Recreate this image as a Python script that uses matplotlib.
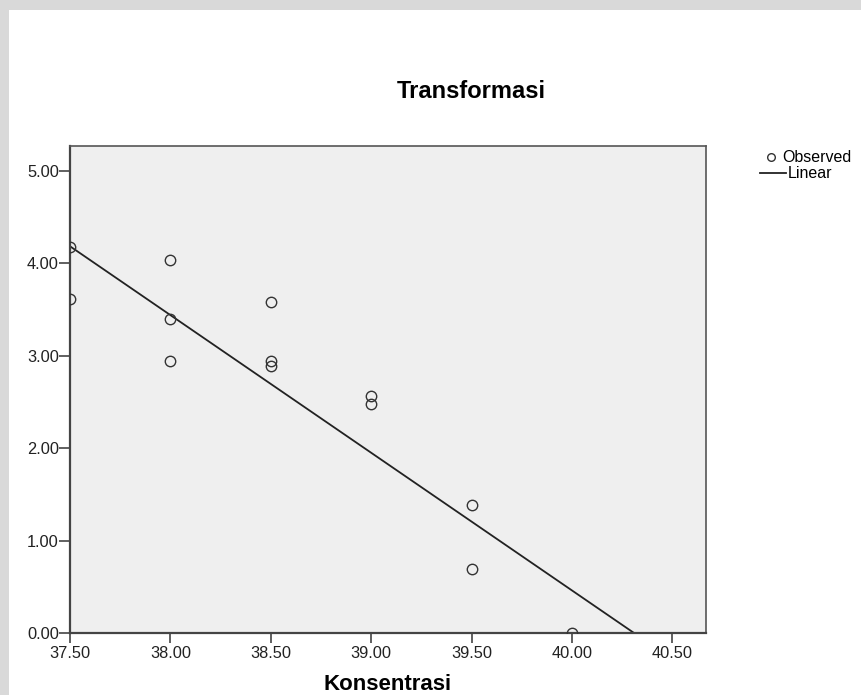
import numpy as np
import matplotlib.pyplot as plt
from matplotlib.lines import Line2D
from matplotlib.patches import Rectangle

# data
konsentrasi = [37.5, 37.5, 38.0, 38.0, 38.0, 38.5, 38.5, 38.5, 39.0, 39.0, 39.5, 39.5, 40.0]
transformasi = [4.18, 3.61, 4.04, 3.40, 2.94, 3.58, 2.94, 2.89, 2.56, 2.48, 1.39, 0.69, 0.00]
# linear fit coefficients (y = a + b*x)
fit_a = 60.06
fit_b = -1.49
x_ticks = [37.5, 38.0, 38.5, 39.0, 39.5, 40.0, 40.5]
y_ticks = [0, 1, 2, 3, 4, 5]

plt.rcParams['font.family'] = ['Liberation Sans', 'DejaVu Sans']

fig = plt.figure(figsize=(8.62, 6.95), dpi=100)
fig.patch.set_facecolor('#d9d9d9')
# white chart panel
fig.add_artist(Rectangle((9/862, 0), 1, 1 - 10/695, transform=fig.transFigure,
                         facecolor='white', edgecolor='none', zorder=0))

ax = fig.add_axes([70/862, 1 - 633/695, 636/862, 487/695])
ax.set_facecolor('#efefef')

ax.plot(konsentrasi, transformasi, 'o', markersize=7.5, markerfacecolor='none',
        markeredgecolor='#333333', markeredgewidth=1.0, zorder=3)

xlim = (37.5, 40.667)
xl = np.array(xlim)
ax.plot(xl, fit_a + fit_b*xl, color='#222222', lw=1.3, zorder=2)

ax.set_xlim(*xlim)
ax.set_ylim(0, 5.27)
ax.set_xticks(x_ticks)
ax.set_xticklabels([f'{v:.2f}' for v in x_ticks])
ax.set_yticks(y_ticks)
ax.set_yticklabels([f'{v:.2f}' for v in y_ticks])

for s in ['left', 'bottom']:
    ax.spines[s].set_color('#444444')
    ax.spines[s].set_linewidth(1.6)
for s in ['top', 'right']:
    ax.spines[s].set_color('#555555')
    ax.spines[s].set_linewidth(1.2)

ax.tick_params(axis='x', direction='out', length=7.5, width=1.2, color='#444444',
               labelsize=11.8, labelcolor='#222222', pad=1.5)
ax.tick_params(axis='y', direction='out', length=8, width=1.2, color='#444444',
               labelsize=11.8, labelcolor='#222222', pad=0)

fig.text(471/862, 1 - 91/695, 'Transformasi', ha='center', va='center',
         fontsize=17, fontweight='bold')
fig.text(388/862, 1 - 685/695, 'Konsentrasi', ha='center', va='center',
         fontsize=16, fontweight='bold')

# legend
fig.add_artist(Line2D([771/862], [1 - 157/695], marker='o', markersize=5.5,
                      markerfacecolor='none', markeredgecolor='#333333',
                      markeredgewidth=1.0, transform=fig.transFigure))
fig.text(782/862, 1 - 157/695, 'Observed', ha='left', va='center', fontsize=11.5)
fig.add_artist(Line2D([760/862, 786/862], [1 - 173/695, 1 - 173/695],
                      color='#222222', lw=1.3, transform=fig.transFigure))
fig.text(788/862, 1 - 173/695, 'Linear', ha='left', va='center', fontsize=11.5)

fig.savefig('out.png', dpi=100, facecolor=fig.get_facecolor())
